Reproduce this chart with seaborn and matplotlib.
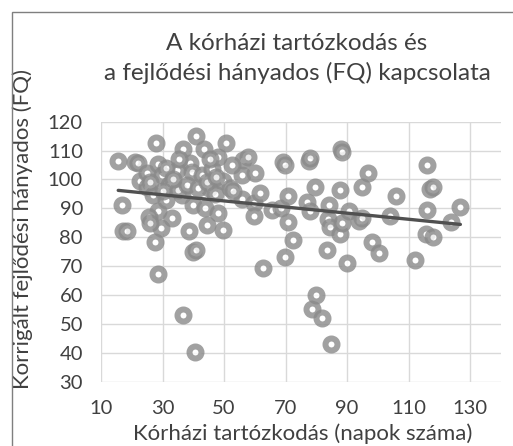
import matplotlib
matplotlib.use('Agg')
import matplotlib.pyplot as plt
from matplotlib.patches import Rectangle
import numpy as np
import pandas as pd
import seaborn as sns

# Hospital stay (days) vs corrected developmental quotient (FQ)
stay_days = [
    15.6, 16.7, 17.3, 18.3, 21.2, 21.9, 22.7, 24.8, 24.8, 27.0,
    27.6, 27.8, 28.6, 28.6, 28.6, 29.5, 29.7, 33.0, 34.6, 36.2,
    36.6, 36.8, 38.7, 39.0, 39.5, 40.0, 40.0, 41.0, 40.6, 40.8,
    42.7, 43.6, 43.8, 44.4, 46.0, 48.1, 48.0, 49.8, 49.8, 50.7,
    52.0, 55.7, 56.3, 55.7, 57.9, 59.6, 60.1, 59.8, 61.7, 62.8,
    65.5, 68.5, 69.2, 69.8, 69.8, 70.9, 70.9, 72.5, 76.9, 77.6,
    77.9, 78.0, 78.5, 79.7, 79.9, 81.7, 83.6, 83.9, 84.2, 84.5,
    84.7, 87.7, 87.7, 88.2, 88.0, 88.2, 89.9, 90.7, 93.7, 94.8,
    94.8, 96.9, 98.0, 100.3, 104.0, 105.9, 112.1, 115.9, 117.0, 118.0,
    115.9, 115.6, 118.0, 123.9, 126.8,
    32.0, 35.0, 45.0, 47.0, 31.0, 25.5, 26.0,
    31.0, 33.5, 38.0, 41.5, 44.5, 47.5, 52.5, 53.0, 26.0, 35.5, 45.5, 30.0,
]
fq_values = [
    106.3, 91.3, 82.2, 82.0, 106.2, 105.8, 99.5, 102.1, 97.5, 94.6,
    78.2, 112.5, 105.4, 89.1, 67.2, 83.1, 101.6, 86.6, 103.3, 94.6,
    110.4, 53.1, 82.3, 105.6, 102.7, 91.3, 75.0, 75.5, 40.2, 115.2,
    101.4, 110.4, 90.2, 84.2, 103.6, 107.9, 88.5, 99.5, 82.4, 112.5,
    97.0, 101.6, 106.8, 93.2, 107.9, 91.8, 102.4, 87.2, 95.2, 69.3,
    89.6, 90.0, 106.0, 105.0, 73.3, 94.3, 85.4, 79.2, 92.3, 106.4,
    107.5, 89.2, 55.1, 97.5, 60.0, 52.2, 75.5, 86.3, 91.0, 83.7,
    43.0, 96.4, 81.1, 84.8, 110.5, 109.4, 71.2, 89.1, 85.7, 97.4,
    86.6, 102.1, 78.3, 74.4, 87.3, 94.2, 72.1, 105.1, 96.6, 97.5,
    89.4, 81.1, 80.1, 85.2, 90.4,
    98.0, 96.5, 97.0, 95.0, 93.0, 87.0, 85.0,
    104.0, 100.0, 98.0, 97.0, 99.0, 101.0, 105.0, 96.0, 99.0, 107.0, 107.0, 96.0,
]

title_lines = ['A kórházi tartózkodás és', 'a fejlődési hányados (FQ) kapcsolata']
x_label = 'Kórházi tartózkodás (napok száma)'
y_label = 'Korrigált fejlődési hányados (FQ)'
x_ticks = [10, 30, 50, 70, 90, 110, 130]
y_ticks = [30, 40, 50, 60, 70, 80, 90, 100, 110, 120]

df = pd.DataFrame({'stay': stay_days, 'fq': fq_values})

sns.set_style('white')
plt.rcParams['font.family'] = ['Lato', 'DejaVu Sans']
text_color = '#404040'

W, H = 513, 446
fig = plt.figure(figsize=(W / 100, H / 100), dpi=100)
ax = fig.add_axes([101 / W, 1 - 381.7 / H, 400 / W, 260 / H])

sns.scatterplot(data=df, x='stay', y='fq', ax=ax, marker='o', s=75,
                color='white', edgecolor='#8a8a8a', linewidth=4.3, alpha=0.8,
                zorder=3, legend=False)
sns.regplot(data=df, x='stay', y='fq', ax=ax, scatter=False, ci=None,
            truncate=True, line_kws=dict(color='#505050', lw=2.4, zorder=4))

ax.set_xlim(10, 140)
ax.set_ylim(30, 120)
ax.set_xticks(x_ticks)
ax.set_yticks(y_ticks)
ax.grid(True, color='#d9d9d9', lw=1.0, zorder=0)
ax.set_axisbelow(True)
for sp in ax.spines.values():
    sp.set_visible(False)
ax.tick_params(length=0, labelsize=14.5, labelcolor=text_color, pad=13)

ax.set_xlabel(x_label, fontsize=16, color=text_color)
ax.set_ylabel(y_label, fontsize=16, color=text_color)
ax.xaxis.set_label_coords((303 - 101) / 400, (381.7 - 434) / 260)
ax.yaxis.set_label_coords((23 - 101) / 400, (381.7 - 229) / 260)
ax.xaxis.label.set_va('center')
ax.yaxis.label.set_va('center')

fig.text(297 / W, 1 - 43 / H, title_lines[0], ha='center', va='center',
         fontsize=17.5, color=text_color)
fig.text(297 / W, 1 - 73 / H, title_lines[1], ha='center', va='center',
         fontsize=17.5, color=text_color)

# chart frame (only top and left edges fall inside the crop)
fig.patches.append(Rectangle((12 / W, -0.1), 1.2, (H - 12) / H + 0.1,
                             transform=fig.transFigure, fill=False,
                             edgecolor='#7f7f7f', lw=1.0))

fig.savefig('out.png', dpi=100)
